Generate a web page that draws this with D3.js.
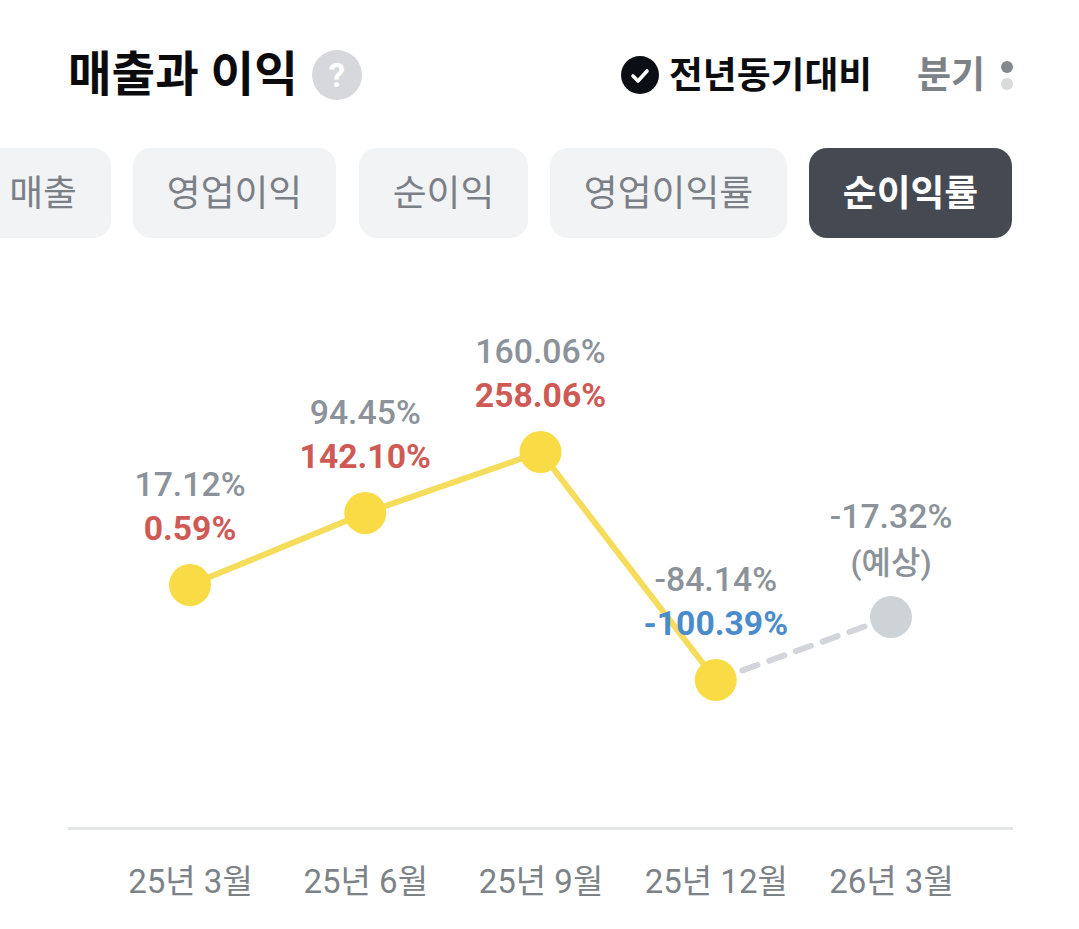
<!DOCTYPE html>
<html><head><meta charset="utf-8">
<script src="https://cdn.jsdelivr.net/npm/d3@7"></script>
<style>html,body{margin:0;background:#fff}svg{display:block}text{font-family:Roboto,"Noto Sans CJK KR",sans-serif}</style>
</head><body><svg id="c" width="1079" height="929"></svg>
<script>
const categories=["25년 3월","25년 6월","25년 9월","25년 12월","26년 3월"];
const netMargin=[0.59,142.10,258.06,-100.39,null];
const forecastMargin=[null,null,null,-100.39,-17.32];
const topLabels=["17.12%","94.45%","160.06%","-84.14%","-17.32%"];
const valueLabels=["0.59%","142.10%","258.06%","-100.39%","(예상)"];
const tabs=["매출","영업이익","순이익","영업이익률","순이익률"];
const tabEdges=[[-40,111],[133,336],[359,528],[550,787],[809,1012]];
const svg=d3.select("#c");
const x=d3.scalePoint().domain(categories).range([190,891]);
// the source chart's vertical axis is not proportional, so the scale is piecewise
const y=d3.scaleLinear().domain([-100.39,-17.32,0.59,142.10,258.06]).range([680,617,585,513,452]);
const T=(s,px,py,size,fill,w,anchor)=>svg.append("text").attr("x",px).attr("y",py).attr("font-size",size).attr("fill",fill).attr("font-weight",w||400).attr("text-anchor",anchor||"middle").text(s);
T("매출과 이익",68,91,47.4,"#0b0b0d",700,"start");
svg.append("circle").attr("cx",337).attr("cy",75).attr("r",25).attr("fill","#d6d8db");
T("?",337,87,33,"#fff",700);
svg.append("circle").attr("cx",640).attr("cy",75).attr("r",19).attr("fill","#0b0e14");
svg.append("path").attr("d","M633 76l5 5 9-10").attr("fill","none").attr("stroke","#fff").attr("stroke-width",3.6).attr("stroke-linecap","round").attr("stroke-linejoin","round");
T("전년동기대비",669,88,36.8,"#0b0d10",700,"start");
T("분기",917,88,37,"#7d8287",700,"start");
svg.append("circle").attr("cx",1007).attr("cy",67).attr("r",6).attr("fill","#85888d");
svg.append("circle").attr("cx",1007).attr("cy",84).attr("r",6).attr("fill","#d9dadc");
tabs.forEach((t,i)=>{const [a,b]=tabEdges[i],on=i===4;
 svg.append("rect").attr("x",a).attr("y",148).attr("width",b-a).attr("height",90).attr("rx",18).attr("fill",on?"#454a52":"#f2f3f5");
 T(t,i===0?43:(a+b)/2,206,36.8,on?"#fff":"#7b8086",on?700:400);
});
const line=d3.line().defined(d=>d[1]!==null).x(d=>x(d[0])).y(d=>y(d[1]));
svg.append("path").datum(categories.map((c,i)=>[c,forecastMargin[i]])).attr("d",line).attr("fill","none").attr("stroke","#d2d5d9").attr("stroke-width",6).attr("stroke-linecap","round").attr("stroke-dasharray","16 12.4");
svg.append("path").datum(categories.map((c,i)=>[c,netMargin[i]])).attr("d",line).attr("fill","none").attr("stroke","#f5dc5a").attr("stroke-width",6);
categories.forEach((c,i)=>{
 const v=i<4?netMargin[i]:forecastMargin[i];
 svg.append("circle").attr("cx",x(c)).attr("cy",y(v)).attr("r",21).attr("fill",i<4?"#f9dc45":"#ced3d7");
});
categories.forEach((c,i)=>{
 const v=i<4?netMargin[i]:forecastMargin[i];
 const py=y(v);
 T(topLabels[i],x(c),py-89,33.8,"#8b9299",500);
 const col=i===4?"#8b9299":(v<0?"#4a8ccb":"#cf5a55");
 if(i===4) T(valueLabels[i],x(c),py-43,32,col,500);
 else T(valueLabels[i],x(c),py-45,33.7,col,700);
 T(c,x(c)+0.5,893,33,"#7d8287",400);
});
svg.append("line").attr("x1",68).attr("x2",1013).attr("y1",828.5).attr("y2",828.5).attr("stroke","#e3e5e7").attr("stroke-width",3);
</script></body></html>
